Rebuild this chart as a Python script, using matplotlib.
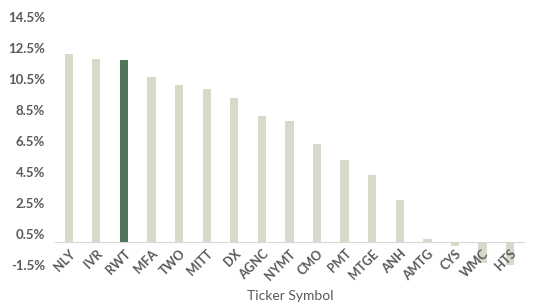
import matplotlib.pyplot as plt
from matplotlib.ticker import FixedLocator

# data
tickers = ["NLY", "IVR", "RWT", "MFA", "TWO", "MITT", "DX", "AGNC", "NYMT",
           "CMO", "PMT", "MTGE", "ANH", "AMTG", "CYS", "WMC", "HTS"]
values = [12.08, 11.77, 11.71, 10.59, 10.08, 9.86, 9.24, 8.10, 7.77,
          6.29, 5.26, 4.29, 2.68, 0.20, -0.30, -1.37, -1.56]
highlight = "RWT"
yticks = [-1.5, 0.5, 2.5, 4.5, 6.5, 8.5, 10.5, 12.5, 14.5]

BAR = "#d7dac8"
HI = "#4f765a"
TXT = "#595959"

plt.rcParams['font.family'] = ['Lato', 'DejaVu Sans']

fig = plt.figure(figsize=(5.33, 3.03), dpi=100)
ax = fig.add_axes([0.103, 0.125, 0.880, 0.82])

colors = [HI if t == highlight else BAR for t in tickers]
ax.bar(range(len(tickers)), values, width=0.3, color=colors, zorder=2)

# spine position first: it resets the tick objects
for s in ["top", "right", "left"]:
    ax.spines[s].set_visible(False)
ax.spines["bottom"].set_position(("data", 0))
ax.spines["bottom"].set_color("#d9d9d9")
ax.spines["bottom"].set_zorder(1)
ax.xaxis.set_zorder(3)

ax.tick_params(axis="both", length=0)
ax.tick_params(axis="x", pad=4)
ax.tick_params(axis="y", pad=7)

ax.set_xlim(-0.5, len(tickers) - 0.5)
ax.set_ylim(-1.5, 14.5)
ax.yaxis.set_major_locator(FixedLocator(yticks))
ax.set_yticklabels([f"{v:.1f}%" for v in yticks], fontsize=9.5,
                   fontweight="bold", color=TXT)

ax.set_xticks(range(len(tickers)))
ax.set_xticklabels(tickers, rotation=45, ha="right", rotation_mode="anchor",
                   fontsize=9, fontweight="bold", color=TXT)

fig.text(0.545, 0.022, "Ticker Symbol", ha="center", va="center",
         fontsize=10, color=TXT)

fig.savefig("out.png", dpi=100)
